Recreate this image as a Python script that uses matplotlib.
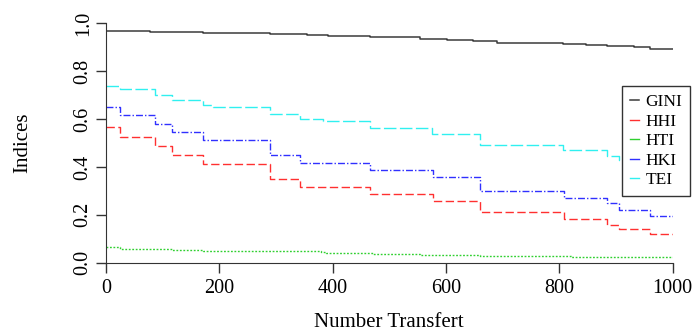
import matplotlib
matplotlib.use("Agg")
import matplotlib.pyplot as plt

# step change points (number of transfers) and the index level from that point on
gini_x = [0, 78, 172, 290, 354, 392, 466, 554, 601, 648, 690, 807, 848, 884, 931, 960, 1000]
gini_y = [0.969, 0.964, 0.959, 0.957, 0.952, 0.948, 0.944, 0.934, 0.930, 0.925, 0.919,
          0.915, 0.909, 0.905, 0.901, 0.894, 0.894]

hhi_x = [0, 25, 87, 116, 172, 290, 342, 466, 577, 660, 808, 884, 906, 960, 1000]
hhi_y = [0.567, 0.525, 0.489, 0.450, 0.412, 0.350, 0.316, 0.287, 0.258, 0.210, 0.183,
         0.159, 0.142, 0.121, 0.121]

hti_x = [0, 25, 87, 116, 172, 290, 380, 389, 471, 554, 660, 820, 1000]
hti_y = [0.064, 0.059, 0.056, 0.053, 0.050, 0.047, 0.043, 0.039, 0.035, 0.031, 0.028,
         0.024, 0.023]

hki_x = [0, 25, 87, 116, 172, 290, 342, 466, 577, 660, 808, 884, 906, 960, 1000]
hki_y = [0.649, 0.616, 0.579, 0.545, 0.513, 0.450, 0.415, 0.387, 0.359, 0.301, 0.270,
         0.248, 0.221, 0.195, 0.195]

tei_x = [0, 25, 87, 116, 172, 189, 290, 342, 383, 466, 575, 660, 807, 884, 906, 960, 1000]
tei_y = [0.739, 0.724, 0.699, 0.680, 0.657, 0.652, 0.620, 0.600, 0.593, 0.564, 0.536,
         0.492, 0.471, 0.447, 0.429, 0.410, 0.410]

x_ticks = [0, 200, 400, 600, 800, 1000]
y_ticks = [0.0, 0.2, 0.4, 0.6, 0.8, 1.0]
y_tick_labels = ["0.0", "0.2", "0.4", "0.6", "0.8", "1.0"]

plt.rcParams["font.family"] = ["Liberation Serif", "DejaVu Serif"]

fig = plt.figure(figsize=(6.97, 3.35), dpi=100)
ax = fig.add_axes([0.152, 0.216, 0.813, 0.714])

ax.step(gini_x, gini_y, where="post", color="#3a3a3a", lw=1.1, label="GINI")
ax.step(hhi_x, hhi_y, where="post", color="#ff3030", lw=1.0, dashes=(6, 2.5), label="HHI")
ax.step(hti_x, hti_y, where="post", color="#30d030", lw=1.0, dashes=(1.3, 1.2), label="HTI")
ax.step(hki_x, hki_y, where="post", color="#3030ff", lw=1.0, dashes=(5, 1.5, 1, 1.5), label="HKI")
ax.step(tei_x, tei_y, where="post", color="#30f0f0", lw=1.0, dashes=(9, 2.5), label="TEI")

ax.set_xlim(0, 1000)
ax.set_ylim(0, 1.0)
ax.set_xticks(x_ticks)
ax.set_yticks(y_ticks)
ax.set_yticklabels(y_tick_labels, rotation=90, va="center")
ax.spines["top"].set_visible(False)
ax.spines["right"].set_visible(False)
for s in ("left", "bottom"):
    ax.spines[s].set_color("#333333")
ax.tick_params(direction="out", length=7.5, width=1, color="#333333", labelsize=14.5)
ax.tick_params(axis="x", pad=4)
ax.tick_params(axis="y", pad=2)

ax.set_xlabel("Number Transfert", fontsize=15, va="center")
ax.set_ylabel("Indices", fontsize=15, va="center")
ax.xaxis.set_label_coords(0.5, -0.252)
ax.yaxis.set_label_coords(-0.147, 0.5)

leg = ax.legend(loc="upper right", bbox_to_anchor=(690 / 697, 1 - 86 / 335),
                bbox_transform=fig.transFigure, fontsize=12.5, frameon=True, fancybox=False,
                handlelength=0.55, handletextpad=0.35, labelspacing=0.2, borderpad=0.45,
                borderaxespad=0, framealpha=1)
leg.get_frame().set_edgecolor("#333333")
leg.get_frame().set_linewidth(1)
for line in leg.get_lines():
    line.set_linestyle("-")

fig.savefig("out.png", dpi=100)
